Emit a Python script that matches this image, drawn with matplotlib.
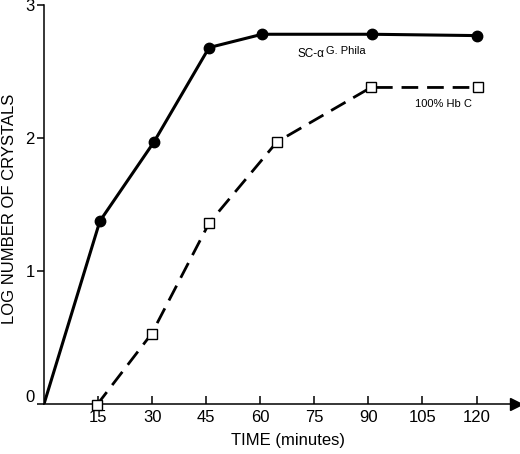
import matplotlib
matplotlib.use("Agg")
import matplotlib.pyplot as plt
import matplotlib.transforms as mtransforms

plt.rcParams['font.family'] = ['Liberation Sans', 'DejaVu Sans']

# values
time_sc = [0, 15.5, 30.5, 45.8, 60.5, 91, 120]
log_sc = [0, 1.375, 1.97, 2.68, 2.78, 2.78, 2.77]

time_hbc = [14.6, 29.9, 45.8, 64.6, 90.7, 120.5]
log_hbc = [-0.01, 0.53, 1.36, 1.97, 2.38, 2.38]

xticks = [15, 30, 45, 60, 75, 90, 105, 120]
yticks = [0, 1, 2, 3]

fig = plt.figure(figsize=(5.2, 4.54), dpi=100)
ax = fig.add_axes([44 / 520, 50 / 454, 474 / 520, 399 / 454])

# SC-alpha G. Phila : solid line, filled circles
ax.plot(time_sc, log_sc, '-', color='black', lw=2.2, zorder=3)
ax.plot(time_sc[1:], log_sc[1:], 'o', color='black', ms=7.5, zorder=4,
        clip_on=False)

# 100% Hb C : dashed line, open squares
ax.plot(time_hbc, log_hbc, '-', color='black', lw=2.0, dashes=(6, 3.2),
        zorder=3)
ax.plot(time_hbc, log_hbc, 's', mfc='white', mec='black', mew=1.0, ms=7,
        zorder=4, clip_on=False)

# series labels
t1 = ax.text(70.3, 2.61, 'SC-α', fontsize=8.5, ha='left', va='baseline')
ax.annotate('G. Phila', xy=(1.0, 0.0), xycoords=t1, xytext=(1, 4.5),
            textcoords='offset points', fontsize=8, ha='left',
            va='baseline')
ax.text(103, 2.235, '100% Hb C', fontsize=8, ha='left', va='baseline')

ax.set_xlim(0, 131.5)
ax.set_ylim(0, 3)
for side in ['top', 'right']:
    ax.spines[side].set_visible(False)
for side in ['left', 'bottom']:
    ax.spines[side].set_linewidth(1.1)

# arrow at the end of the time axis
ax.plot(0.995, 0, '>', color='black', ms=8,
        transform=ax.get_yaxis_transform(), clip_on=False)

ax.set_xticks(xticks)
ax.set_yticks(yticks)
ax.tick_params(axis='x', direction='in', length=6, width=1.1, pad=4,
               labelsize=12)
ax.tick_params(axis='y', direction='out', length=5, width=1.1, pad=1.5,
               labelsize=12)

# the "0" label sits a little above the axis in the original
zero_lab = ax.yaxis.get_major_ticks()[0].label1
zero_lab.set_transform(zero_lab.get_transform() +
                       mtransforms.ScaledTranslation(0, 6 / 72,
                                                     fig.dpi_scale_trans))

ax.set_xlabel('TIME (minutes)', fontsize=12)
ax.xaxis.set_label_coords(0.515, -0.072)
ax.set_ylabel('LOG NUMBER OF CRYSTALS', fontsize=12)
ax.yaxis.set_label_coords(-0.057, 0.49)

fig.savefig('out.png', dpi=100)
